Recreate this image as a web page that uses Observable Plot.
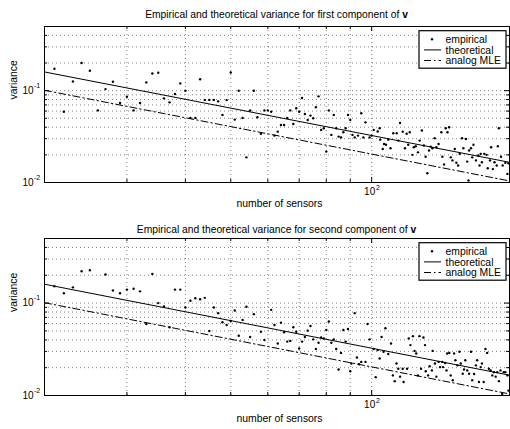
<!DOCTYPE html>
<html><head><meta charset="utf-8">
<script src="https://cdn.jsdelivr.net/npm/d3@7"></script>
<script src="https://cdn.jsdelivr.net/npm/@observablehq/plot@0.6"></script>
<style>body{margin:0;background:#fff;} svg{display:block;}</style>
</head><body><div id="c"></div>
<script>
// ---- data ----
const topN = [21,22,23,24,25,26,27,28,29,30,31,32,33,34,35,36,37,38,39,40,41,42,43,44,45,46,47,48,49,50,51,52,53,54,55,56,57,58,59,60,61,62,63,64,65,66,67,68,69,70,71,72,73,74,75,76,77,78,79,80,81,82,83,84,85,86,87,88,89,90,91,92,93.5,95,96,97,99,100,101,103,104,104.3,105.6,106.3,107.3,108.5,109.7,111.2,113.1,114,115,116.5,117.8,118.8,119.7,120.6,122.2,123,124.2,125.6,126.6,128,129.3,130.4,131.5,132.6,133.7,134.8,136.3,137.5,139,140.9,141.6,142.8,144,145.2,146.4,147.6,148.8,150.5,151.7,153,154.2,156,157,159,160,161,161.5,163,164,165,167,169,170,171,172,174,176,177,179,180,181.5,183,185,186,187,189,190.5,193,195,196];
const topV = [.173,.059,.126,.2,.165,.061,.104,.125,.0735,.086,.061,.0735,.123,.154,.157,.0825,.0746,.092,.12,.1,.0505,.0505,.133,.0794,.0794,.0794,.0765,.0545,.079,.158,.0484,.1,.0505,.0188,.061,.1,.0513,.034,.061,.061,.059,.0324,.0358,.0423,.0423,.0505,.061,.0434,.0644,.059,.0832,.0558,.048,.0535,.05,.0659,.0867,.0374,.039,.0217,.061,.033,.0545,.039,.0316,.031,.0352,.039,.0545,.048,.033,.031,.0324,.0567,.031,.0452,.031,.0324,.0374,.0359,.039,.0293,.0232,.0263,.0258,.0293,.0236,.0344,.0344,.0286,.0445,.0358,.0236,.034,.0258,.0352,.02,.0242,.0248,.0213,.0286,.0368,.0253,.0191,.0126,.0223,.0246,.0236,.0303,.0242,.0263,.0352,.0191,.0157,.039,.0352,.0399,.0188,.0174,.0232,.0164,.0153,.0205,.0303,.0236,.0298,.0169,.0105,.0223,.0236,.0188,.0258,.0174,.0197,.0153,.0205,.0166,.0205,.02,.0143,.0174,.0242,.014,.0166,.0153,.0248,.039,.0191,.0153,.0164,.0124,.0162];
const botN = [21,22,23,24,25,27,28,29,30,31,32,33,34,35,36,37,38,39,40,41,42,43,44,45,46,47,48,49,50,51,52,53,54,55,56,58,59,61,62,63,64,65,66,67,68,69,70,71,72,73,74,75,76,77,78,79,80,81,82,83,84,85,86,87,88,89,90,90.5,92,93,94,95,97,98,99,101,102,103,104,105,106,107,108.5,110,111,112,113,114,115,116.5,117,119,120,121,122.5,123.5,124.5,125.5,126.5,127.5,129,130,130.5,132,133,134.5,135,136.5,137.5,139,140,141.5,142,143.5,144.5,145,146.5,147.5,149,150,151,152.5,154,155,156.5,157.5,158.5,160,161.5,163,164,165.5,167,168,169.5,171,172,173.5,175,176.5,178,179.5,181,182.5,184,185.5,187,188.5,190,191.5,193,195,196];
const botV = [.152,.128,.148,.221,.227,.204,.137,.128,.14,.143,.134,.0595,.207,.1,.0918,.0547,.14,.14,.0895,.106,.113,.11,.114,.0499,.0895,.0778,.0621,.058,.0642,.083,.0444,.0658,.0912,.043,.0759,.049,.0398,.0845,.058,.0366,.0614,.0483,.0383,.039,.0547,.049,.0323,.0383,.043,.0503,.0565,.0405,.0318,.0372,.0425,.0415,.0511,.0632,.0372,.0405,.0318,.0191,.0289,.0511,.0383,.0524,.0183,.0222,.0778,.0258,.0218,.0231,.0231,.0595,.0405,.0318,.0158,.031,.0251,.043,.0297,.0534,.0281,.0366,.0165,.0143,.0222,.0195,.016,.0195,.014,.0195,.0415,.0351,.0439,.0304,.0285,.0165,.0439,.0195,.0425,.0351,.0183,.0165,.0207,.0187,.0304,.0222,.016,.0231,.0203,.0231,.0203,.0225,.0187,.0285,.0289,.0165,.0146,.0285,.0241,.0212,.0297,.0222,.0172,.0191,.0241,.0187,.0172,.0297,.0146,.0171,.0212,.0241,.014,.0203,.0222,.014,.0318,.0289,.0195,.0187,.0165,.0179,.016,.0179,.0143,.0187,.0104,.0179,.0179,.0165,.0113];
const lineN = [20, 197];
const theoV = [0.16, 0.0166];
const mleV = [0.101, 0.0104];
const xMinor = [30, 40, 50, 60, 70, 80, 90];
const xMajor = [100];
const yMinor = [0.02, 0.03, 0.04, 0.05, 0.06, 0.07, 0.08, 0.09, 0.2, 0.3, 0.4];
const yMajor = [0.01, 0.1];
const xTickBase = ["10"], xTickExp = ["2"];
const yTickBase = ["10", "10"], yTickExp = ["-2", "-1"];
const titleMain = ["Empirical and theoretical variance for first component of ", "Empirical and theoretical variance for second component of "];
const titleBold = "v";
const xLabel = "number of sensors";
const yLabel = "variance";
const legendLabels = ["empirical", "theoretical", "analog MLE"];

const FONT = "'Liberation Sans', Arial, Helvetica, sans-serif";

function panel(N, V, title, h, mt, mb, titleY, xlabDy) {
  const W = 510, ml = 44, mr = 1;
  const fh = h - mt - mb, fw = W - ml - mr;
  const pts = N.map((n, i) => ({n, v: V[i]}));
  const theo = lineN.map((n, i) => ({n, v: theoV[i]}));
  const mle = lineN.map((n, i) => ({n, v: mleV[i]}));
  const grid = {stroke: "#000", strokeOpacity: 0.55, strokeWidth: 0.9, strokeDasharray: "1,3"};
  const svg = Plot.plot({
    width: W, height: h, marginLeft: ml, marginRight: mr, marginTop: mt, marginBottom: mb,
    style: {fontFamily: FONT, background: "white", color: "black"},
    x: {type: "log", domain: [20, 197], axis: null},
    y: {type: "log", domain: [0.01, 0.5], axis: null},
    marks: [
      Plot.ruleX(xMinor.concat(xMajor), {x: d => d, ...grid}),
      Plot.ruleY(yMinor.concat([0.1]), {y: d => d, ...grid}),
      Plot.line(theo, {x: "n", y: "v", stroke: "black", strokeWidth: 1}),
      Plot.line(mle, {x: "n", y: "v", stroke: "black", strokeWidth: 1, strokeDasharray: "7,3,1.5,3"}),
      Plot.dot(pts, {x: "n", y: "v", r: 1.2, fill: "black", stroke: "none"}),
      Plot.tickX(xMinor, {x: d => d, stroke: "black", insetTop: fh - 3}),
      Plot.tickX(xMinor, {x: d => d, stroke: "black", insetBottom: fh - 3}),
      Plot.tickX(xMajor, {x: d => d, stroke: "black", insetTop: fh - 5}),
      Plot.tickX(xMajor, {x: d => d, stroke: "black", insetBottom: fh - 5}),
      Plot.tickY(yMinor, {y: d => d, stroke: "black", insetRight: fw - 3}),
      Plot.tickY(yMinor, {y: d => d, stroke: "black", insetLeft: fw - 3}),
      Plot.tickY(yMajor, {y: d => d, stroke: "black", insetRight: fw - 5}),
      Plot.tickY(yMajor, {y: d => d, stroke: "black", insetLeft: fw - 5}),
      Plot.frame({stroke: "black", strokeWidth: 1}),
      Plot.text(yMajor, {y: d => d, text: (d, i) => yTickBase[i], frameAnchor: "left", dx: -11, textAnchor: "end", fontSize: 10, fill: "black"}),
      Plot.text(yMajor, {y: d => d, text: (d, i) => yTickExp[i], frameAnchor: "left", dx: -10.5, dy: -5, textAnchor: "start", fontSize: 7, fill: "black"}),
      Plot.text(xMajor, {x: d => d, text: (d, i) => xTickBase[i], frameAnchor: "bottom", dx: -2, dy: 12, textAnchor: "middle", fontSize: 10, fill: "black"}),
      Plot.text(xMajor, {x: d => d, text: (d, i) => xTickExp[i], frameAnchor: "bottom", dx: 4.3, dy: 7.5, textAnchor: "start", fontSize: 7, fill: "black"}),
      Plot.text([xLabel], {text: d => d, frameAnchor: "bottom", dx: 2.5, dy: xlabDy, fontSize: 10.4, fill: "black"}),
      Plot.text([yLabel], {text: d => d, frameAnchor: "left", dx: -31, dy: -5, rotate: -90, fontSize: 10.4, fill: "black"})
    ]
  });
  const s = d3.select(svg);
  const t = s.append("text").attr("x", ml + fw / 2).attr("y", titleY).attr("dy", "0.35em")
    .attr("text-anchor", "middle").attr("font-family", FONT).attr("font-size", 10.3).attr("fill", "black");
  t.append("tspan").text(title);
  t.append("tspan").attr("font-weight", "bold").text(titleBold);
  // legend
  const g = s.append("g").attr("font-family", FONT).attr("font-size", 10.4).attr("text-anchor", "start");
  const top = mt + 4.7;
  g.append("rect").attr("x", 419).attr("y", top).attr("width", 87).attr("height", 37.5)
    .attr("fill", "white").attr("stroke", "black").attr("stroke-width", 1.2);
  const rows = [top + 8.6, top + 19.2, top + 29.8];
  legendLabels.forEach((lab, i) => {
    g.append("text").attr("x", 445.5).attr("y", rows[i]).attr("dy", "0.35em")
      .attr("text-anchor", "start").attr("fill", "black").text(lab);
  });
  g.append("circle").attr("cx", 432).attr("cy", rows[0]).attr("r", 1.2).attr("fill", "black");
  g.append("line").attr("x1", 424).attr("x2", 441).attr("y1", rows[1]).attr("y2", rows[1]).attr("stroke", "black");
  g.append("line").attr("x1", 424).attr("x2", 441).attr("y1", rows[2]).attr("y2", rows[2]).attr("stroke", "black").attr("stroke-dasharray", "7,3,1.5,3");
  return svg;
}

const c = document.getElementById("c");
c.appendChild(panel(topN, topV, titleMain[0], 212, 26, 30, 14, 24.5));
c.appendChild(panel(botN, botV, titleMain[1], 217, 26, 34, 17, 26.5));
</script>
</body></html>
